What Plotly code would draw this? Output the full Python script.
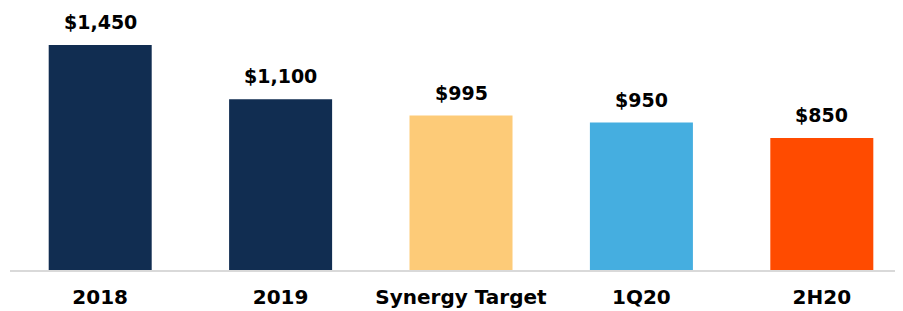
import plotly.graph_objects as go

categories = ["2018", "2019", "Synergy Target", "1Q20", "2H20"]
values = [1450, 1100, 995, 950, 850]
labels = ["$1,450", "$1,100", "$995", "$950", "$850"]
colors = ["#112D51", "#112D51", "#FDCB78", "#45AEE0", "#FF4B00"]

fig = go.Figure(go.Bar(
    x=categories, y=values,
    marker=dict(color=colors, line=dict(width=0)),
    hoverinfo="skip",
))

for i, (v, t) in enumerate(zip(values, labels)):
    fig.add_annotation(
        x=i, y=v, text=t, showarrow=False, yanchor="bottom", yshift=10,
        font=dict(family="DejaVu Sans", size=19, color="#000000", weight="bold"),
    )

fig.update_layout(
    width=903, height=311,
    margin=dict(l=2, r=8, t=2, b=49),
    paper_bgcolor="white", plot_bgcolor="white",
    bargap=0.429, showlegend=False,
    xaxis=dict(type="category", range=[-0.5, 4.45], showline=True, linecolor="#D9D9D9", linewidth=2,
               ticks="", showgrid=False, zeroline=False, ticklabelstandoff=8,
               tickfont=dict(family="DejaVu Sans", size=20, color="#000000", weight="bold")),
    yaxis=dict(range=[0, 1675.6], visible=False, showgrid=False, zeroline=False),
)

fig.write_html("out.html")
